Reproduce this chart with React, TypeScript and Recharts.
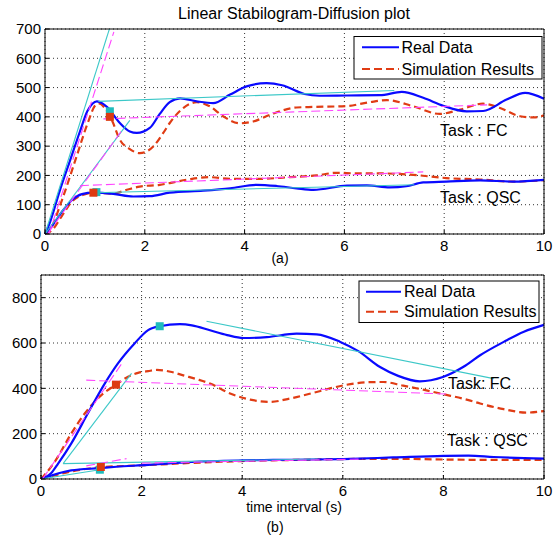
import React from "react";
import { ComposedChart, Line, Scatter, XAxis, YAxis, CartesianGrid } from "recharts";

type Pt = [number, number];

const FONT = "'Liberation Sans', Arial, Helvetica, sans-serif";

const xTicks = [0, 2, 4, 6, 8, 10];
const yTicksA = [0, 100, 200, 300, 400, 500, 600, 700];
const yTicksB = [0, 200, 400, 600, 800];

// (a) curves: [time, value]
const realFcA: Pt[] = [
  [0, 0], [0.1, 40], [0.3, 150], [0.5, 250], [0.7, 350], [0.85, 420], [0.95, 445], [1.04, 453],
  [1.15, 446], [1.24, 434], [1.5, 379], [1.7, 350], [1.84, 345], [2.1, 362], [2.3, 410], [2.5, 450],
  [2.71, 463], [3.04, 453], [3.37, 447], [3.71, 476], [4.04, 504], [4.44, 515], [4.75, 508], [5.2, 478],
  [5.5, 472], [6.05, 473], [6.71, 474], [7.15, 485], [7.58, 465], [7.98, 438], [8.45, 419], [8.78, 420],
  [9.25, 459], [9.62, 482], [10, 462],
];
const simFcA: Pt[] = [
  [0, 0], [0.1, 15], [0.34, 116], [0.61, 253], [0.88, 390], [1.0, 438], [1.08, 446], [1.2, 430],
  [1.35, 385], [1.5, 322], [1.7, 290], [1.9, 276], [2.17, 299], [2.37, 345], [2.5, 379], [2.77, 430],
  [3.04, 450], [3.3, 436], [3.57, 402], [3.9, 378], [4.17, 384], [4.51, 407], [5.04, 432], [5.4, 434],
  [6.05, 437], [6.5, 450], [6.85, 457], [7.38, 436], [7.91, 410], [8.32, 425], [8.78, 445], [9.12, 430],
  [9.52, 402], [9.79, 398], [10, 405],
];
const realQscA: Pt[] = [
  [0, 0], [0.15, 30], [0.34, 76], [0.54, 116], [0.74, 136], [0.97, 141], [1.37, 137], [1.77, 128],
  [2.1, 129], [2.5, 141], [3.17, 148], [3.71, 156], [4.24, 168], [4.64, 164], [5.04, 156], [5.38, 151],
  [6.05, 165], [6.45, 166], [6.91, 159], [7.24, 163], [7.58, 176], [8.04, 179], [8.72, 183], [9.38, 179],
  [10, 185],
];
const simQscA: Pt[] = [
  [0, 0], [0.15, 15], [0.34, 62], [0.54, 111], [0.77, 134], [0.97, 141], [1.37, 138], [1.64, 151],
  [1.9, 162], [2.3, 168], [2.5, 174], [2.9, 187], [3.31, 194], [3.71, 188], [4.24, 188], [4.91, 194],
  [5.44, 200], [5.84, 209], [6.25, 207], [6.71, 207], [7.38, 202], [8.04, 191], [8.72, 186], [9.38, 179],
  [10, 184],
];
const cyanFitsA: Pt[][] = [
  [[0, 0], [1.29, 700]],
  [[1.07, 453], [7.0, 490]],
  [[0, 0], [1.7, 388]],
  [[0.97, 141], [7.4, 168]],
];
const magentaFitsA: Pt[][] = [
  [[0.08, 0], [1.38, 690]],
  [[1.17, 393], [8.86, 441]],
  [[0.05, 0], [1.55, 356]],
  [[0.7, 165], [7.58, 212]],
];
const cyanMarksA: Pt[] = [[1.3, 419], [1.03, 143]];
const redMarksA: Pt[] = [[1.3, 400], [0.97, 141]];

// (b) curves
const realFcB: Pt[] = [
  [0, 0], [0.2, 25], [0.34, 68], [0.6, 156], [0.93, 289], [1.27, 422], [1.53, 510], [1.86, 598],
  [2.13, 657], [2.36, 674], [2.76, 683], [3.0, 678], [3.36, 656], [3.7, 635], [4.02, 622], [4.49, 626],
  [5.08, 641], [5.48, 638], [5.94, 606], [6.3, 565], [6.74, 494], [7.1, 455], [7.53, 431], [7.99, 450],
  [8.4, 495], [8.73, 546], [9.2, 605], [9.6, 650], [10, 680],
];
const simFcB: Pt[] = [
  [0, 0], [0.1, 25], [0.27, 75], [0.6, 200], [0.87, 289], [1.2, 370], [1.49, 416], [1.73, 451],
  [1.93, 468], [2.13, 476], [2.3, 481], [2.6, 472], [2.83, 457], [3.1, 440], [3.36, 421], [3.76, 377],
  [4.16, 350], [4.55, 340], [4.95, 355], [5.48, 384], [6.01, 413], [6.5, 427], [6.8, 428], [7.2, 412],
  [7.6, 394], [8.0, 374], [8.5, 348], [8.73, 333], [9.2, 308], [9.65, 293], [10, 300],
];
const realQscB: Pt[] = [
  [0, 0], [0.6, 38], [1.17, 48], [1.5, 54], [2.13, 62], [2.5, 68], [3.0, 75], [4.0, 82], [5.0, 85],
  [6.0, 88], [7.0, 95], [8.0, 102], [8.5, 103], [9.0, 97], [10, 90],
];
const simQscB: Pt[] = [
  [0, 0], [0.5, 28], [1.17, 52], [2.0, 60], [3.0, 71], [4.0, 79], [5.0, 84], [6.0, 88], [7.0, 89],
  [8.0, 86], [9.0, 84], [10, 84],
];
const cyanFitsB: Pt[][] = [
  [[0.44, 68], [1.8, 466]],
  [[3.29, 696], [9.0, 443]],
  [[0, 0], [1.17, 41]],
  [[0.44, 68], [5.5, 88]],
];
const magentaFitsB: Pt[][] = [
  [[0.03, 0], [1.63, 517]],
  [[0.9, 436], [8.13, 374]],
  [[0.9, 58], [1.7, 90]],
  [[2.0, 70], [6.4, 88]],
];
const cyanMarksB: Pt[] = [[2.36, 674], [1.17, 41]];
const redMarksB: Pt[] = [[1.49, 416], [1.19, 53]];

const BLUE = "#0a0aff";
const RED = "#e03c14";
const CYAN = "#3cc8c8";
const MAGENTA = "#ff44ff";
const CYAN_MARK = "#1fbcbc";
const RED_MARK = "#dd3a10";

const toData = (pts: Pt[]) => pts.map(([x, y]) => ({ x, y }));

const square = (color: string) => (props: any) => (
  <rect x={props.cx - 4} y={props.cy - 4} width={8} height={8} fill={color} />
);

interface PanelProps {
  height: number;
  top: number;
  yWidth: number;
  yMax: number;
  yTicks: number[];
  realFc: Pt[];
  simFc: Pt[];
  realQsc: Pt[];
  simQsc: Pt[];
  cyanFits: Pt[][];
  magentaFits: Pt[][];
  cyanMarks: Pt[];
  redMarks: Pt[];
}

const tickStyle = { fill: "#000", fontSize: 15, fontFamily: FONT };

const Panel: React.FC<PanelProps> = (p) => (
  <ComposedChart width={559} height={p.height} margin={{ top: p.top, right: 15, bottom: 0, left: 0 }}>
    <CartesianGrid stroke="#333" strokeDasharray="1 3" />
    <XAxis
      dataKey="x"
      type="number"
      domain={[0, 10]}
      ticks={xTicks}
      height={21}
      tickSize={-4}
      tickMargin={10}
      stroke="#000"
      tick={tickStyle}
    />
    <XAxis
      xAxisId="top"
      orientation="top"
      type="number"
      domain={[0, 10]}
      ticks={xTicks}
      mirror
      tickSize={4}
      stroke="#000"
      tickFormatter={() => ""}
    />
    <YAxis
      dataKey="y"
      type="number"
      domain={[0, p.yMax]}
      ticks={p.yTicks}
      width={p.yWidth}
      allowDataOverflow
      tickSize={-4}
      tickMargin={8}
      stroke="#000"
      tick={tickStyle}
    />
    <YAxis
      yAxisId="right"
      orientation="right"
      type="number"
      domain={[0, p.yMax]}
      ticks={p.yTicks}
      mirror
      tickSize={4}
      stroke="#000"
      tickFormatter={() => ""}
    />
    <Line data={toData(p.simFc)} dataKey="y" type="monotone" stroke={RED} strokeWidth={2.2} strokeDasharray="7 4" dot={false} activeDot={false} isAnimationActive={false} />
    <Line data={toData(p.simQsc)} dataKey="y" type="monotone" stroke={RED} strokeWidth={2.2} strokeDasharray="7 4" dot={false} activeDot={false} isAnimationActive={false} />
    <Line data={toData(p.realFc)} dataKey="y" type="monotone" stroke={BLUE} strokeWidth={2.2} dot={false} activeDot={false} isAnimationActive={false} />
    <Line data={toData(p.realQsc)} dataKey="y" type="monotone" stroke={BLUE} strokeWidth={2.2} dot={false} activeDot={false} isAnimationActive={false} />
    {p.cyanFits.map((seg, i) => (
      <Line key={"c" + i} data={toData(seg)} dataKey="y" type="linear" stroke={CYAN} strokeWidth={1.1} dot={false} activeDot={false} isAnimationActive={false} />
    ))}
    {p.magentaFits.map((seg, i) => (
      <Line key={"m" + i} data={toData(seg)} dataKey="y" type="linear" stroke={MAGENTA} strokeWidth={1.1} strokeDasharray="9 4" dot={false} activeDot={false} isAnimationActive={false} />
    ))}
    <Scatter data={toData(p.cyanMarks)} dataKey="y" shape={square(CYAN_MARK)} isAnimationActive={false} />
    <Scatter data={toData(p.redMarks)} dataKey="y" shape={square(RED_MARK)} isAnimationActive={false} />
  </ComposedChart>
);

const LegendBox: React.FC<{ x: number; y: number; w: number; h: number; l1: number; l2: number; tx: number; lx1: number; lx2: number }> = ({ x, y, w, h, l1, l2, tx, lx1, lx2 }) => (
  <g>
    <rect x={x} y={y} width={w} height={h} fill="#fff" stroke="#000" strokeWidth={1} />
    <line x1={lx1} x2={lx2} y1={l1} y2={l1} stroke={BLUE} strokeWidth={2} />
    <line x1={lx1} x2={lx2} y1={l2} y2={l2} stroke={RED} strokeWidth={2} strokeDasharray="8 4" />
    <text x={tx} y={l1 + 5.5} fontSize={16}>Real Data</text>
    <text x={tx} y={l2 + 5.5} fontSize={16}>Simulation Results</text>
  </g>
);

export default function App() {
  return (
    <div style={{ position: "absolute", left: 0, top: 0, width: 559, height: 536, background: "#fff", fontFamily: FONT }}>
      <div style={{ position: "absolute", left: 0, top: 0 }}>
        <Panel height={255} top={29} yWidth={45} yMax={700} yTicks={yTicksA}
          realFc={realFcA} simFc={simFcA} realQsc={realQscA} simQsc={simQscA}
          cyanFits={cyanFitsA} magentaFits={magentaFitsA} cyanMarks={cyanMarksA} redMarks={redMarksA} />
      </div>
      <div style={{ position: "absolute", left: 0, top: 250 }}>
        <Panel height={250} top={25} yWidth={41} yMax={900} yTicks={yTicksB}
          realFc={realFcB} simFc={simFcB} realQsc={realQscB} simQsc={simQscB}
          cyanFits={cyanFitsB} magentaFits={magentaFitsB} cyanMarks={cyanMarksB} redMarks={redMarksB} />
      </div>
      <svg width={559} height={536} style={{ position: "absolute", left: 0, top: 0, pointerEvents: "none" }} fontFamily={FONT} fill="#000">
        <text x={294} y={18.5} fontSize={16} textAnchor="middle">Linear Stabilogram-Diffusion plot</text>
        <LegendBox x={354} y={36.5} w={188} h={42.5} l1={47.3} l2={69} tx={401.5} lx1={362} lx2={399} />
        <text x={440} y={136} fontSize={16}>Task : FC</text>
        <text x={440} y={203.3} fontSize={16}>Task : QSC</text>
        <text x={280} y={263} fontSize={14} textAnchor="middle">(a)</text>
        <LegendBox x={359} y={281} w={180} h={41.5} l1={291.7} l2={311.7} tx={404} lx1={366} lx2={401} />
        <text x={448} y={389} fontSize={16}>Task: FC</text>
        <text x={447} y={446} fontSize={16}>Task : QSC</text>
        <text x={294} y={512} fontSize={14} textAnchor="middle">time interval (s)</text>
        <text x={275} y={532} fontSize={14} textAnchor="middle">(b)</text>
      </svg>
    </div>
  );
}
